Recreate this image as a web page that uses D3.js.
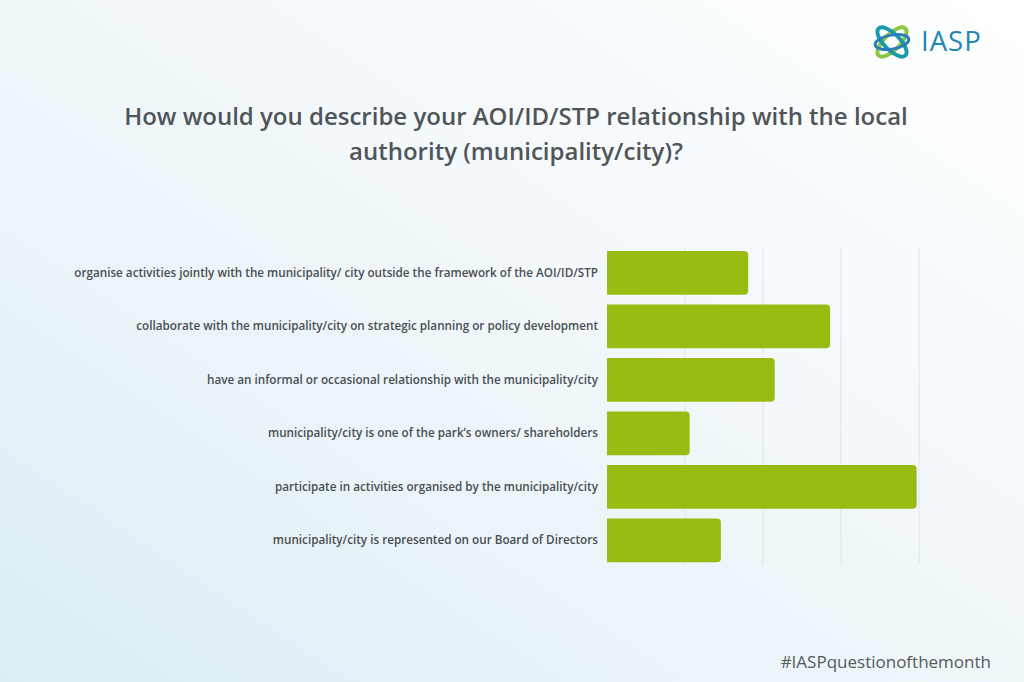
<!DOCTYPE html>
<html><head><meta charset="utf-8">
<script src="https://cdn.jsdelivr.net/npm/d3@7/dist/d3.min.js"></script>
<style>html,body{margin:0;padding:0;overflow:hidden;background:#fff}</style>
</head><body>
<svg id="chart" width="1024" height="682"></svg>
<script>
const categories = [
  "organise activities jointly with the municipality/ city outside the framework of the AOI/ID/STP",
  "collaborate with the municipality/city on strategic planning or policy development",
  "have an informal or occasional relationship with the municipality/city",
  "municipality/city is one of the park’s owners/ shareholders",
  "participate in activities organised by the municipality/city",
  "municipality/city is represented on our Board of Directors"
];
const values = [18.1, 28.6, 21.5, 10.6, 39.7, 14.6];
const gridTicks = [10, 20, 30, 40];
const titleLines = ["How would you describe your AOI/ID/STP relationship with the local", "authority (municipality/city)?"];
const hashtag = "#IASPquestionofthemonth";

const svg = d3.select("#chart");
const W = 1024, H = 682;
const defs = svg.append("defs");
const bg = defs.append("linearGradient").attr("id","bg").attr("x1","0").attr("y1","1").attr("x2","1").attr("y2","0");
bg.append("stop").attr("offset","0").attr("stop-color","#ddedf5");
bg.append("stop").attr("offset","0.5").attr("stop-color","#f0f7fb");
bg.append("stop").attr("offset","1").attr("stop-color","#ffffff");
svg.append("rect").attr("width",W).attr("height",H).attr("fill","url(#bg)");

// title
const title = svg.append("text").attr("text-anchor","middle")
  .attr("font-family","'Open Sans', sans-serif").attr("font-weight",600)
  .attr("font-size",24).attr("fill","#505558");
titleLines.forEach((t,i)=>title.append("tspan").attr("x",516).attr("y",125+i*35).text(t));

// scales
const x = d3.scaleLinear().domain([0,40]).range([607,919]);
const y = d3.scaleBand().domain(categories).range([248.3,565]).paddingInner(0.18).paddingOuter(0.05);

// gridlines
svg.append("g").selectAll("line").data(gridTicks).join("line")
  .attr("x1",d=>x(d)).attr("x2",d=>x(d)).attr("y1",248).attr("y2",565)
  .attr("stroke","#dde4ea").attr("stroke-width",1);

// bars with rounded right corners
const r = 4;
function barPath(d,i){
  const x0 = x(0), x1 = x(d), y0 = y(categories[i]), h = y.bandwidth();
  return `M${x0},${y0}H${x1-r}Q${x1},${y0} ${x1},${y0+r}V${y0+h-r}Q${x1},${y0+h} ${x1-r},${y0+h}H${x0}Z`;
}
svg.append("g").selectAll("path").data(values).join("path")
  .attr("d",barPath).attr("fill","#98bc12");

// labels
svg.append("g").selectAll("text").data(categories).join("text")
  .attr("x",598).attr("y",d=>y(d)+y.bandwidth()/2+4)
  .attr("text-anchor","end").attr("font-family","'Open Sans', sans-serif")
  .attr("font-weight",600).attr("font-size",11.7).attr("fill","#4a4f52").text(d=>d);

// hashtag
svg.append("text").attr("x",991).attr("y",668).attr("text-anchor","end")
  .attr("font-family","'Open Sans', sans-serif").attr("font-size",17).attr("fill","#555a5d").text(hashtag);

// logo
const logo = svg.append("g").attr("transform","translate(892,42)");
logo.append("ellipse").attr("rx",19).attr("ry",8).attr("transform","rotate(-45)").attr("fill","none").attr("stroke","#8dc63f").attr("stroke-width",4);
logo.append("ellipse").attr("rx",19).attr("ry",8).attr("transform","rotate(45)").attr("fill","none").attr("stroke","#1b9aaa").attr("stroke-width",4);
logo.append("ellipse").attr("rx",17).attr("ry",7).attr("transform","rotate(-10)").attr("fill","none").attr("stroke","#2a7fb8").attr("stroke-width",3);
svg.append("text").attr("x",921).attr("y",51).attr("font-family","'Open Sans', sans-serif")
  .attr("font-weight",500).attr("font-size",27.5).attr("letter-spacing",1).attr("fill","#1f86b8").text("IASP");
</script>
</body></html>
